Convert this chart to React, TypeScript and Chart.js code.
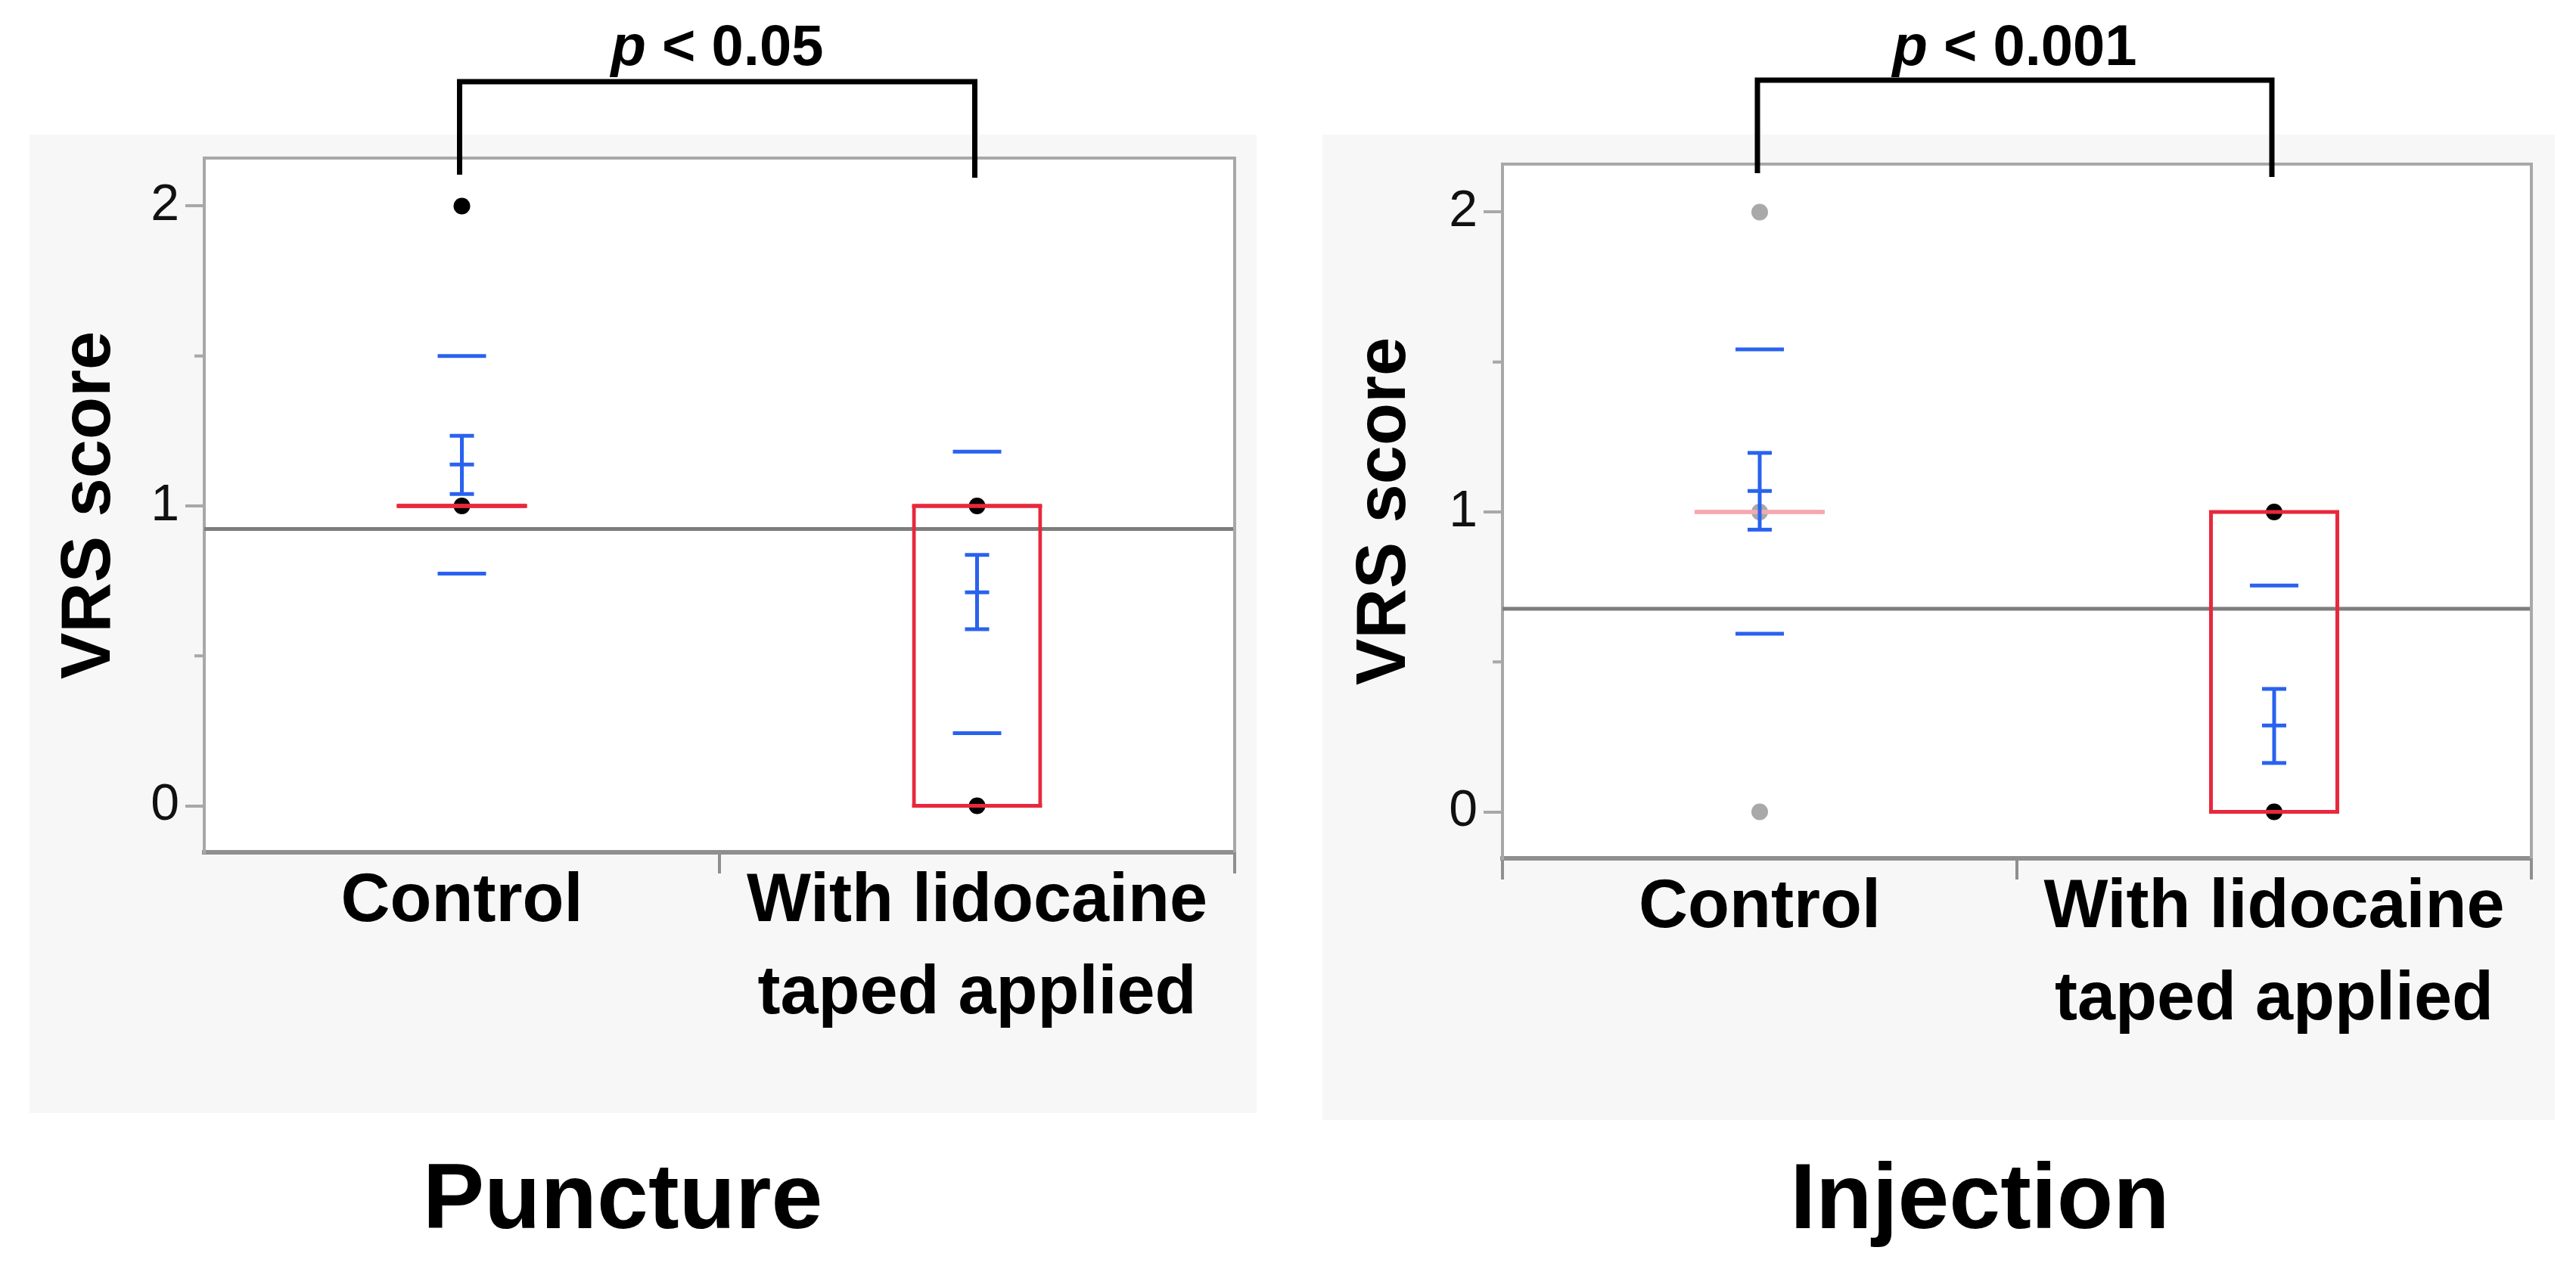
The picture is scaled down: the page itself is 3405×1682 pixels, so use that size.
import React, { useEffect, useRef } from 'react';
import { Chart, registerables } from 'chart.js';

Chart.register(...registerables);

// ---------- data ----------
const categoryLabels: string[][] = [['Control'], ['With lidocaine', 'taped applied']];
const xRange = [-0.5, 1.5];
const yRange = [-0.155, 2.16];
const yTickValues = [0, 1, 2];
const yMinorTickValues = [0.5, 1.5];
const yTitle = 'VRS score';

// Puncture
const punctureTitle = 'Puncture';
const punctureP = '< 0.05';
const punctureControlScores = [2, 1];
const punctureLidocaineScores = [1, 0];
const punctureMean = [1.138, 0.712];
const punctureSeUpper = [1.234, 0.837];
const punctureSeLower = [1.04, 0.589];
const punctureSdUpper = [1.5, 1.181];
const punctureSdLower = [0.774, 0.242];
const punctureQ1 = [1, 0];
const punctureQ3 = [1, 1];
const punctureMedian = [1, 1];
const punctureGrandMean = 0.923;

// Injection
const injectionTitle = 'Injection';
const injectionP = '< 0.001';
const injectionControlScores = [2, 1, 0];
const injectionLidocaineScores = [1, 0];
const injectionMean = [1.07, 0.288];
const injectionSeUpper = [1.197, 0.41];
const injectionSeLower = [0.941, 0.163];
const injectionSdUpper = [1.542, 0.755];
const injectionSdLower = [0.594, -0.18];
const injectionQ1 = [1, 0];
const injectionQ3 = [1, 1];
const injectionMedian = [1, 0];
const injectionGrandMean = 0.677;

// ---------- styles ----------
const FONT = '"Liberation Sans", Arial, Helvetica, sans-serif';
const BLUE = '#2a62ee';
const RED = '#e8283c';
const PINK = '#f5a8b0';
const BLACK = '#000000';
const GRAY_POINT = '#a9a9a9';
const FRAME = '#a8a8a8';
const AXIS = '#8f8f8f';
const MEAN_LINE = '#7d7d7d';
const BG = '#f7f7f7';

const panels = [
  {
    key: 'puncture',
    title: punctureTitle,
    pText: punctureP,
    scores: [punctureControlScores, punctureLidocaineScores],
    pointColors: [BLACK, BLACK],
    boxColors: [RED, RED],
    mean: punctureMean,
    seUpper: punctureSeUpper,
    seLower: punctureSeLower,
    sdUpper: punctureSdUpper,
    sdLower: punctureSdLower,
    q1: punctureQ1,
    q3: punctureQ3,
    median: punctureMedian,
    grandMean: punctureGrandMean,
    layout: {
      canvasLeft: 0,
      canvasWidth: 1700,
      bg: { left: 39, top: 178, width: 1622, height: 1294 },
      padding: { left: 39, top: 209, right: 68, bottom: 210 },
      yAxisWidth: 231,
      xAxisHeight: 345,
      yTitlePad: 25,
      titleX: 823,
      titleY: 1624,
      bracketY: 108,
      legBottoms: [231, 235],
      pY: 86,
      showFirstXTick: false,
    },
  },
  {
    key: 'injection',
    title: injectionTitle,
    pText: injectionP,
    scores: [injectionControlScores, injectionLidocaineScores],
    pointColors: [GRAY_POINT, BLACK],
    boxColors: [PINK, RED],
    mean: injectionMean,
    seUpper: injectionSeUpper,
    seLower: injectionSeLower,
    sdUpper: injectionSdUpper,
    sdLower: injectionSdLower,
    q1: injectionQ1,
    q3: injectionQ3,
    median: injectionMedian,
    grandMean: injectionGrandMean,
    layout: {
      canvasLeft: 1700,
      canvasWidth: 1705,
      bg: { left: 1748, top: 178, width: 1629, height: 1303 },
      padding: { left: 48, top: 217, right: 59, bottom: 201 },
      yAxisWidth: 238,
      xAxisHeight: 346,
      yTitlePad: 28,
      titleX: 917,
      titleY: 1624,
      bracketY: 106,
      legBottoms: [229, 234],
      pY: 86,
      showFirstXTick: true,
    },
  },
];

const decorPlugin = {
  id: 'decor',
  beforeDraw(chart: any) {
    const { ctx, chartArea: a } = chart;
    ctx.save();
    ctx.fillStyle = '#ffffff';
    ctx.fillRect(a.left, a.top, a.right - a.left, a.bottom - a.top);
    ctx.restore();
  },
  afterDraw(chart: any, _args: any, o: any) {
    const { ctx, chartArea: a } = chart;
    const xs = chart.scales.x;
    const ys = chart.scales.y;
    ctx.save();
    ctx.strokeStyle = FRAME;
    ctx.lineWidth = 4;
    ctx.lineCap = 'butt';
    ctx.beginPath();
    ctx.moveTo(a.left, a.top);
    ctx.lineTo(a.right, a.top);
    ctx.lineTo(a.right, a.bottom);
    ctx.stroke();
    yMinorTickValues.forEach((v) => {
      const py = ys.getPixelForValue(v);
      ctx.beginPath();
      ctx.moveTo(a.left - 13, py);
      ctx.lineTo(a.left, py);
      ctx.stroke();
    });
    // significance bracket
    const xl = xs.getPixelForValue(0) - 3;
    const xr = xs.getPixelForValue(1) - 3;
    ctx.strokeStyle = '#000';
    ctx.lineWidth = 7;
    ctx.lineJoin = 'miter';
    ctx.beginPath();
    ctx.moveTo(xl, o.legBottoms[0]);
    ctx.lineTo(xl, o.bracketY);
    ctx.lineTo(xr, o.bracketY);
    ctx.lineTo(xr, o.legBottoms[1]);
    ctx.stroke();
    // p text
    ctx.fillStyle = '#000';
    ctx.textBaseline = 'alphabetic';
    ctx.textAlign = 'left';
    const f1 = `italic bold 76px ${FONT}`;
    const f2 = `bold 76px ${FONT}`;
    ctx.font = f1;
    const w1 = ctx.measureText('p').width;
    const rest = ' ' + o.pText;
    ctx.font = f2;
    const w2 = ctx.measureText(rest).width;
    const sx = (xl + xr) / 2 - (w1 + w2) / 2;
    ctx.font = f1;
    ctx.fillText('p', sx, o.pY);
    ctx.font = f2;
    ctx.fillText(rest, sx + w1, o.pY);
    // panel title
    ctx.font = `bold 122px ${FONT}`;
    ctx.textAlign = 'center';
    ctx.fillText(o.title, o.titleX, o.titleY);
    ctx.restore();
  },
};

function buildConfig(p: any) {
  const L = p.layout;
  const pts: any[] = [];
  const ptColors: string[] = [];
  p.scores.forEach((vals: number[], i: number) =>
    vals.forEach((v) => {
      pts.push({ x: i, y: v });
      ptColors.push(p.pointColors[i]);
    })
  );
  const cats = p.mean.map((_: number, i: number) => i);
  const lineMarker = (data: any[], radius: number, color: any, order: number, extra: any = {}) => ({
    type: 'scatter',
    data,
    pointStyle: 'line',
    pointRadius: radius,
    pointHoverRadius: radius,
    pointBorderWidth: 5,
    pointBorderColor: color,
    borderColor: color,
    order,
    ...extra,
  });

  const datasets: any[] = [
    {
      type: 'line',
      data: [
        { x: xRange[0], y: p.grandMean },
        { x: xRange[1], y: p.grandMean },
      ],
      borderColor: MEAN_LINE,
      borderWidth: 5,
      pointRadius: 0,
      order: 7,
      clip: 0,
    },
    {
      type: 'scatter',
      data: pts,
      pointRadius: 11,
      pointHoverRadius: 11,
      pointBackgroundColor: ptColors,
      pointBorderWidth: 0,
      order: 6,
    },
    // quantile box: sides from a floating bar, top/bottom edges as centred line markers
    {
      type: 'bar',
      data: cats.map((i: number) => ({ x: i, y: [p.q1[i], p.q3[i]] })),
      backgroundColor: 'rgba(0,0,0,0)',
      borderColor: p.boxColors,
      borderWidth: { left: 5, right: 5, top: 0, bottom: 0 },
      borderSkipped: false,
      grouped: false,
      maxBarThickness: 172,
      order: 5,
    },
    lineMarker(
      [...cats.map((i: number) => ({ x: i, y: p.q1[i] })), ...cats.map((i: number) => ({ x: i, y: p.q3[i] }))],
      86,
      [...p.boxColors, ...p.boxColors],
      5
    ),
    lineMarker(cats.map((i: number) => ({ x: i, y: p.median[i] })), 85, p.boxColors, 4),
    lineMarker(
      [...cats.map((i: number) => ({ x: i, y: p.sdUpper[i] })), ...cats.map((i: number) => ({ x: i, y: p.sdLower[i] }))],
      32,
      BLUE,
      3,
      { clip: 0 }
    ),
    {
      type: 'bar',
      data: cats.map((i: number) => ({ x: i, y: [p.seLower[i], p.seUpper[i]] })),
      backgroundColor: BLUE,
      borderWidth: 0,
      grouped: false,
      maxBarThickness: 5,
      order: 2,
    },
    lineMarker(
      [...cats.map((i: number) => ({ x: i, y: p.seUpper[i] })), ...cats.map((i: number) => ({ x: i, y: p.seLower[i] }))],
      16,
      BLUE,
      1
    ),
    lineMarker(cats.map((i: number) => ({ x: i, y: p.mean[i] })), 16, BLUE, 0),
  ];

  return {
    type: 'scatter',
    data: { datasets },
    options: {
      responsive: false,
      maintainAspectRatio: false,
      animation: false,
      devicePixelRatio: 1,
      events: [],
      layout: { padding: L.padding, autoPadding: false },
      plugins: {
        legend: { display: false },
        tooltip: { enabled: false },
        decor: {
          title: p.title,
          pText: p.pText,
          bracketY: L.bracketY,
          legBottoms: L.legBottoms,
          pY: L.pY,
          titleX: L.titleX,
          titleY: L.titleY,
        },
      },
      scales: {
        x: {
          type: 'linear',
          min: xRange[0],
          max: xRange[1],
          offset: false,
          grid: { offset: false },
          display: false,
        },
        xc: {
          type: 'category',
          labels: categoryLabels,
          position: 'bottom',
          offset: true,
          grid: {
            display: true,
            offset: true,
            drawOnChartArea: false,
            drawTicks: true,
            tickLength: 28,
            lineWidth: 4,
            color: AXIS,
            tickColor: (c: any) => (!L.showFirstXTick && c.index === 0 ? 'rgba(0,0,0,0)' : AXIS),
          },
          border: { display: true, color: AXIS, width: 6 },
          ticks: {
            color: '#000',
            font: { family: FONT, size: 90, weight: 'bold', lineHeight: 1.355 },
            padding: -23,
            maxRotation: 0,
            minRotation: 0,
            autoSkip: false,
          },
          afterFit: (s: any) => {
            s.height = L.xAxisHeight;
            s.paddingLeft = 0;
            s.paddingRight = 0;
          },
        },
        y: {
          type: 'linear',
          position: 'left',
          min: yRange[0],
          max: yRange[1],
          afterBuildTicks: (s: any) => {
            s.ticks = yTickValues.map((v) => ({ value: v }));
          },
          grid: { display: true, drawOnChartArea: false, tickLength: 25, lineWidth: 4, color: FRAME },
          border: { display: true, color: FRAME, width: 4 },
          ticks: { color: '#111', font: { family: FONT, size: 68 }, padding: 8 },
          title: {
            display: true,
            text: yTitle,
            color: '#000',
            font: { family: FONT, size: 92, weight: 'bold' },
            padding: { top: L.yTitlePad, bottom: 0 },
          },
          afterFit: (s: any) => {
            s.width = L.yAxisWidth;
            s.paddingTop = 0;
            s.paddingBottom = 0;
          },
        },
      },
    },
    plugins: [decorPlugin],
  };
}

function PanelChart({ panel }: { panel: any }) {
  const ref = useRef<HTMLCanvasElement | null>(null);
  useEffect(() => {
    if (!ref.current) return;
    const chart = new Chart(ref.current, buildConfig(panel) as any);
    return () => chart.destroy();
  }, [panel]);
  const L = panel.layout;
  return (
    <canvas
      ref={ref}
      width={L.canvasWidth}
      height={1682}
      style={{ position: 'absolute', left: L.canvasLeft, top: 0, width: L.canvasWidth, height: 1682, display: 'block' }}
    />
  );
}

export default function App() {
  return (
    <div
      style={{
        position: 'absolute',
        left: 0,
        top: 0,
        width: 3405,
        height: 1682,
        background: '#ffffff',
        overflow: 'hidden',
      }}
    >
      {panels.map((p) => (
        <div
          key={p.key + '-bg'}
          style={{
            position: 'absolute',
            left: p.layout.bg.left,
            top: p.layout.bg.top,
            width: p.layout.bg.width,
            height: p.layout.bg.height,
            background: BG,
          }}
        />
      ))}
      {panels.map((p) => (
        <PanelChart key={p.key} panel={p} />
      ))}
    </div>
  );
}
